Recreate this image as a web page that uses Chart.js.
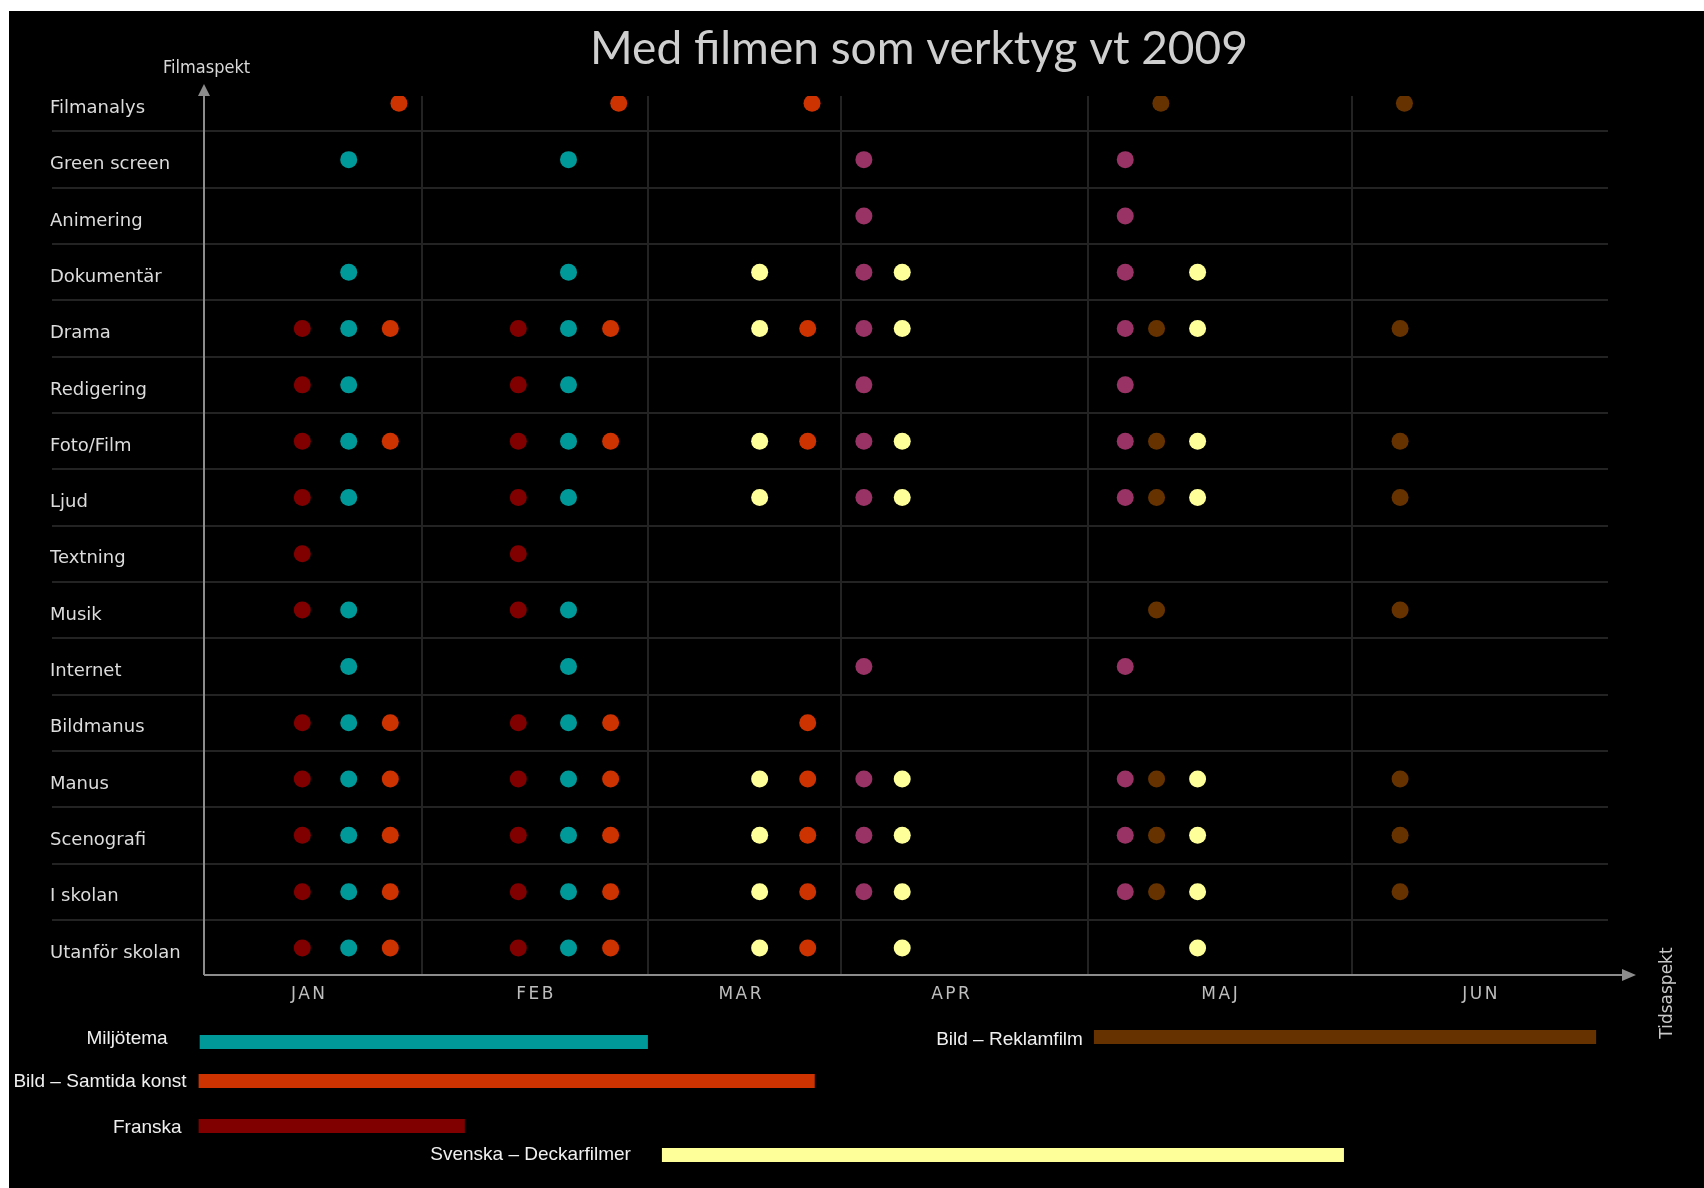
<!DOCTYPE html>
<html lang="sv">
<head>
<meta charset="utf-8">
<title>Med filmen som verktyg vt 2009</title>
<script src="https://cdn.jsdelivr.net/npm/chart.js@4"></script>
<style>
  html, body { margin: 0; padding: 0; background: #fff; }
  #wrap { width: 1704px; height: 1188px; }
</style>
</head>
<body>
<div id="wrap"><canvas id="chart" width="1704" height="1188"></canvas></div>
<script>
// Filmaspekt (y-axeln), uppifrån och ned
const filmaspekter = ['Filmanalys', 'Green screen', 'Animering', 'Dokumentär', 'Drama', 'Redigering',
  'Foto/Film', 'Ljud', 'Textning', 'Musik', 'Internet', 'Bildmanus', 'Manus', 'Scenografi',
  'I skolan', 'Utanför skolan'];

// Tidsaspekt (x-axeln), i veckor från terminsstart
const manader = ['JAN', 'FEB', 'MAR', 'APR', 'MAJ', 'JUN'];
const manadsMitt = [1.93, 6.13, 9.93, 13.83, 18.81, 23.63];
const manadsGranser = [4.04, 8.22, 11.8, 16.37, 21.26];

// Ämnen: vilka veckor de ligger på och vilka filmaspekter de tar upp
const franskaVeckor = [1.82, 5.82];
const franskaAspekter = ['Drama', 'Redigering', 'Foto/Film', 'Ljud', 'Textning', 'Musik',
  'Bildmanus', 'Manus', 'Scenografi', 'I skolan', 'Utanför skolan'];

const miljoVeckor = [2.68, 6.75];
const miljoAspekter = ['Green screen', 'Dokumentär', 'Drama', 'Redigering', 'Foto/Film', 'Ljud',
  'Musik', 'Internet', 'Bildmanus', 'Manus', 'Scenografi', 'I skolan', 'Utanför skolan'];

const samtidaVeckor = [3.45, 7.53, 11.18];
const samtidaAspekter = ['Drama', 'Foto/Film', 'Bildmanus', 'Manus', 'Scenografi',
  'I skolan', 'Utanför skolan'];
const samtidaFilmanalysVeckor = [3.61, 7.68, 11.26];

const deckarVeckor = [10.29, 12.93, 18.4];
const deckarAspekter = ['Dokumentär', 'Drama', 'Foto/Film', 'Ljud', 'Manus', 'Scenografi',
  'I skolan', 'Utanför skolan'];

const lilaVeckor = [12.22, 17.06];
const lilaAspekter = ['Green screen', 'Animering', 'Dokumentär', 'Drama', 'Redigering', 'Foto/Film',
  'Ljud', 'Internet', 'Manus', 'Scenografi', 'I skolan'];

const reklamVeckor = [17.64, 22.15];
const reklamAspekter = ['Drama', 'Foto/Film', 'Ljud', 'Musik', 'Manus', 'Scenografi', 'I skolan'];
const reklamFilmanalysVeckor = [17.72, 22.23];

// Perioder under diagrammet (start och slut i veckor)
const periodNamn = ['Miljötema', 'Bild – Samtida konst', 'Franska', 'Svenska – Deckarfilmer', 'Bild – Reklamfilm'];
const periodStart = [-0.08, -0.1, -0.1, 8.48, 16.48];
const periodSlut = [8.22, 11.31, 4.83, 21.11, 25.78];

const farger = {
  franska: '#800000',
  miljo: '#009999',
  samtida: '#cc3300',
  deckare: '#ffff99',
  lila: '#993366',
  reklam: '#663300'
};
const periodFarg = [farger.miljo, farger.samtida, farger.franska, farger.deckare, farger.reklam];

function punkter(veckor, aspekter) {
  return veckor.flatMap(v => aspekter.map(a => ({ x: v, y: filmaspekter.indexOf(a) })));
}

const gridFarg = '#232323';
const axelFarg = '#8c8c8c';

// bakgrund, pilar, rubriker, månader och perioder
const ritaExtra = {
  id: 'ritaExtra',
  beforeDraw(chart) {
    const { ctx, width, height } = chart;
    ctx.save();
    ctx.fillStyle = '#fff';
    ctx.fillRect(0, 0, width, height);
    ctx.fillStyle = '#000';
    ctx.fillRect(9, 11, width - 9, height - 11);
    ctx.restore();
  },
  afterDraw(chart) {
    const { ctx, chartArea } = chart;
    const x = chart.scales.x;
    ctx.save();

    // axlar med pilar
    ctx.strokeStyle = axelFarg;
    ctx.fillStyle = axelFarg;
    ctx.lineWidth = 2;
    ctx.beginPath();
    ctx.moveTo(chartArea.left, chartArea.bottom);
    ctx.lineTo(chartArea.left, chartArea.top - 4);
    ctx.moveTo(chartArea.left, chartArea.bottom);
    ctx.lineTo(chartArea.right + 18, chartArea.bottom);
    ctx.stroke();
    ctx.beginPath();
    ctx.moveTo(chartArea.left, chartArea.top - 12);
    ctx.lineTo(chartArea.left - 6, chartArea.top);
    ctx.lineTo(chartArea.left + 6, chartArea.top);
    ctx.closePath();
    ctx.fill();
    ctx.beginPath();
    ctx.moveTo(chartArea.right + 28, chartArea.bottom);
    ctx.lineTo(chartArea.right + 14, chartArea.bottom - 6);
    ctx.lineTo(chartArea.right + 14, chartArea.bottom + 6);
    ctx.closePath();
    ctx.fill();

    // rubrik
    ctx.fillStyle = '#cfcfcf';
    ctx.font = '46px Lato, "Open Sans", sans-serif';
    ctx.textAlign = 'center';
    ctx.textBaseline = 'alphabetic';
    ctx.fillText('Med filmen som verktyg vt 2009', 919, 64);

    // månader
    ctx.fillStyle = '#bdbdbd';
    ctx.font = '17px "DejaVu Sans", sans-serif';
    ctx.letterSpacing = '2.5px';
    ctx.textBaseline = 'middle';
    manader.forEach((m, i) => {
      ctx.fillText(m, x.getPixelForValue(manadsMitt[i]) + 1, 995);
    });
    ctx.letterSpacing = '0px';

    // axeltitlar
    ctx.fillStyle = '#d8d8d8';
    ctx.font = '18px "DejaVu Sans Condensed", "Liberation Sans Narrow", sans-serif';
    ctx.textAlign = 'left';
    ctx.textBaseline = 'middle';
    ctx.fillText('Filmaspekt', 163, 68);
    ctx.save();
    ctx.translate(1668, 993);
    ctx.rotate(-Math.PI / 2);
    ctx.textAlign = 'center';
    ctx.font = '17px "DejaVu Sans", sans-serif';
    ctx.fillStyle = '#c8c8c8';
    ctx.fillText('Tidsaspekt', 0, 0);
    ctx.restore();

    // perioder
    const stapelY = [1042, 1081, 1126, 1155, 1037];
    const textY = [1039, 1082, 1128, 1155, 1040];
    const textGap = [32, 12, 17, 31, 11];
    ctx.font = '19px "Liberation Sans", Arial, sans-serif';
    ctx.textAlign = 'right';
    ctx.textBaseline = 'middle';
    periodNamn.forEach((namn, i) => {
      const x0 = x.getPixelForValue(periodStart[i]);
      const x1 = x.getPixelForValue(periodSlut[i]);
      ctx.fillStyle = periodFarg[i];
      ctx.fillRect(x0, stapelY[i] - 7, x1 - x0, 14);
      ctx.fillStyle = '#f0f0f0';
      ctx.fillText(namn, x0 - textGap[i], textY[i]);
    });
    ctx.restore();
  }
};

const ctx = document.getElementById('chart').getContext('2d');

new Chart(ctx, {
  type: 'scatter',
  data: {
    datasets: [
      { label: 'Franska', data: punkter(franskaVeckor, franskaAspekter), backgroundColor: farger.franska },
      { label: 'Miljötema', data: punkter(miljoVeckor, miljoAspekter), backgroundColor: farger.miljo },
      {
        label: 'Bild – Samtida konst',
        data: punkter(samtidaFilmanalysVeckor, ['Filmanalys']).concat(punkter(samtidaVeckor, samtidaAspekter)),
        backgroundColor: farger.samtida
      },
      { label: 'Svenska – Deckarfilmer', data: punkter(deckarVeckor, deckarAspekter), backgroundColor: farger.deckare },
      { label: '', data: punkter(lilaVeckor, lilaAspekter), backgroundColor: farger.lila },
      {
        label: 'Bild – Reklamfilm',
        data: punkter(reklamFilmanalysVeckor, ['Filmanalys']).concat(punkter(reklamVeckor, reklamAspekter)),
        backgroundColor: farger.reklam
      }
    ]
  },
  options: {
    responsive: false,
    animation: false,
    events: [],
    elements: {
      point: { radius: 8.5, borderWidth: 0 }
    },
    layout: {
      padding: { left: 50, right: 96, top: 96, bottom: 173 }
    },
    plugins: {
      legend: { display: false },
      title: { display: false },
      tooltip: { enabled: false }
    },
    scales: {
      x: {
        type: 'linear',
        min: 0,
        max: 26,
        border: { display: false },
        afterBuildTicks: scale => {
          scale.ticks = manadsGranser.map(v => ({ value: v }));
        },
        afterFit: scale => { scale.height = 40; },
        grid: {
          drawTicks: false,
          lineWidth: 2,
          color: gridFarg
        },
        ticks: { display: false }
      },
      y: {
        type: 'linear',
        reverse: true,
        min: -0.13,
        max: 15.48,
        border: { display: false },
        afterBuildTicks: scale => {
          const t = [];
          filmaspekter.forEach((_, i) => {
            t.push({ value: i });
            if (i < filmaspekter.length - 1) t.push({ value: i + 0.5 });
          });
          scale.ticks = t;
        },
        afterFit: scale => { scale.width = 154; },
        grid: {
          lineWidth: 2,
          tickLength: 152,
          color: c => (c.tick && c.tick.value % 1 !== 0) ? gridFarg : 'rgba(0,0,0,0)',
          tickColor: c => (c.tick && c.tick.value % 1 !== 0) ? gridFarg : 'rgba(0,0,0,0)'
        },
        ticks: {
          crossAlign: 'far',
          labelOffset: 5,
          color: '#dcdcdc',
          font: { family: '"DejaVu Sans", sans-serif', size: 18 },
          callback: v => Number.isInteger(v) ? filmaspekter[v] : ''
        }
      }
    }
  },
  plugins: [ritaExtra]
});
</script>
</body>
</html>
